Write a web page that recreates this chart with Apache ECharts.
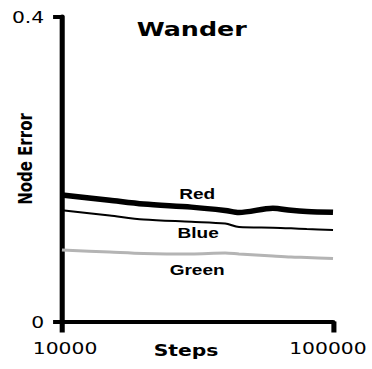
<!DOCTYPE html>
<html>
<head>
<meta charset="utf-8">
<script src="https://cdn.jsdelivr.net/npm/echarts@6/dist/echarts.min.js"></script>
<style>
  html, body { margin: 0; padding: 0; background: #fff; overflow: hidden; }
  /* The figure is laid out at a narrower width and widened horizontally */
  #chart { width: 293px; height: 369px; transform: scaleX(1.2696); transform-origin: 0 0; }
</style>
</head>
<body>
<div id="chart"></div>
<script>
// Steps (log scale) at which node error was sampled
const steps = [10000, 15000, 20000, 30000, 40000, 45000, 60000, 70000, 80000, 100000];
const red   = [0.166, 0.159, 0.154, 0.150, 0.1457, 0.143, 0.1485, 0.1458, 0.1443, 0.1432];
const blue  = [0.146, 0.139, 0.1338, 0.1308, 0.1285, 0.1239, 0.123, 0.1222, 0.1213, 0.120];
const green = [0.0938, 0.0911, 0.0892, 0.0885, 0.0898, 0.0885, 0.0859, 0.0846, 0.0839, 0.0826];
const seriesNames = ['Red', 'Blue', 'Green'];
const xTicks = [10000, 100000];
const yTicks = [0, 0.4];
const labelIndex = 3; // series name sits next to the 30000-step point

const tickFont = { fontFamily: 'DejaVu Sans', fontSize: 16, fill: '#000' };

const chart = echarts.init(document.getElementById('chart'), null, { renderer: 'svg' });

function makeSeries(name, values, width, color, offset) {
  return {
    name: name,
    type: 'line',
    smooth: 0.3,
    data: steps.map((s, i) => {
      const item = { value: [s, values[i]] };
      if (i === labelIndex) {
        item.label = {
          show: true, position: 'inside', offset: offset, formatter: name,
          fontFamily: 'Liberation Sans', fontWeight: 'bold', fontSize: 15, color: '#000'
        };
      }
      return item;
    }),
    showSymbol: true,
    symbol: 'circle',
    symbolSize: 1,
    itemStyle: { color: 'rgba(0,0,0,0)', borderWidth: 0 },
    lineStyle: { width: width, color: color },
    silent: true,
    animation: false,
    z: name === 'Red' ? 3 : 2
  };
}

chart.setOption({
  animation: false,
  title: {
    text: 'Wander', left: 151, top: 19, textAlign: 'center', padding: 0,
    textStyle: { fontFamily: 'DejaVu Sans', fontWeight: 'bold', fontSize: 20, color: '#000' }
  },
  grid: { left: 48.8, right: 30.7, top: 16.5, bottom: 47.5, containLabel: false, outerBoundsMode: 'none' },
  xAxis: {
    type: 'log', logBase: 10, min: xTicks[0], max: xTicks[1],
    name: 'Steps', nameLocation: 'middle', nameGap: 21, nameMoveOverlap: false,
    nameTextStyle: { fontFamily: 'DejaVu Sans', fontWeight: 'bold', fontSize: 16, color: '#000', padding: [0, 18, 0, 0] },
    axisLine: { lineStyle: { color: '#000', width: 4 } },
    axisTick: { show: true, length: 11, lineStyle: { color: '#000', width: 4 } },
    axisLabel: { show: false },
    splitLine: { show: false }
  },
  yAxis: {
    type: 'value', min: yTicks[0], max: yTicks[1], interval: yTicks[1] - yTicks[0],
    name: 'Node Error', nameLocation: 'middle', nameGap: 21, nameRotate: 90, nameMoveOverlap: false,
    nameTextStyle: { fontFamily: 'DejaVu Sans', fontWeight: 'bold', fontSize: 15, color: '#000', padding: [0, 0, 0, 20] },
    axisLine: { show: true, lineStyle: { color: '#000', width: 4 } },
    axisTick: { show: true, length: 7, lineStyle: { color: '#000', width: 4 } },
    axisLabel: { show: false },
    splitLine: { show: false }
  },
  series: [
    makeSeries(seriesNames[0], red, 5.5, '#000', [4.6, -13]),
    makeSeries(seriesNames[1], blue, 2, '#000', [5.4, 10.5]),
    makeSeries(seriesNames[2], green, 3, '#b4b4b4', [4.6, 16])
  ]
});

// Tick labels placed at the axis positions of their values
const labels = [];
xTicks.forEach((v, i) => {
  const p = chart.convertToPixel({ gridIndex: 0 }, [v, yTicks[0]]);
  labels.push({
    type: 'text', x: p[0] + (i === 0 ? 2.4 : -4), y: p[1] + 27,
    style: Object.assign({ text: String(v), textAlign: 'center', textVerticalAlign: 'middle' }, tickFont)
  });
});
yTicks.forEach(v => {
  const p = chart.convertToPixel({ gridIndex: 0 }, [xTicks[0], v]);
  labels.push({
    type: 'text', x: p[0] - 14, y: p[1] + 1,
    style: Object.assign({ text: String(v), textAlign: 'right', textVerticalAlign: 'middle' }, tickFont)
  });
});
chart.setOption({ graphic: labels });
</script>
</body>
</html>
